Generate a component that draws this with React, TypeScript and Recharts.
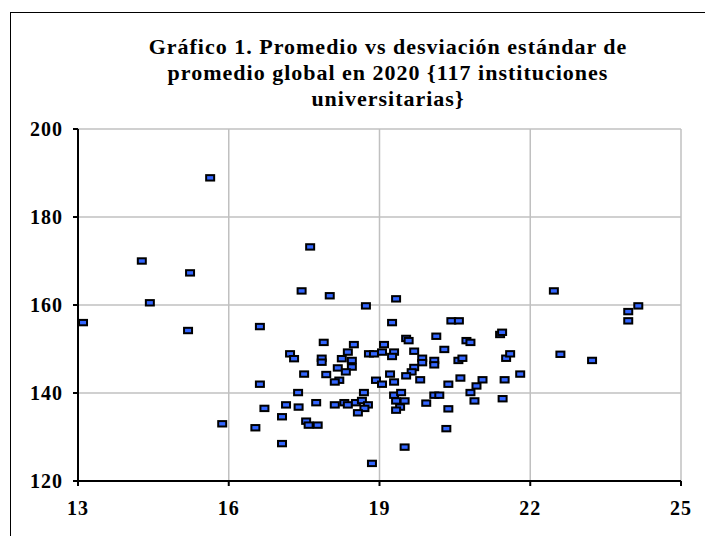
import React from "react";
import { ScatterChart, Scatter, XAxis, YAxis, CartesianGrid } from "recharts";

const titleLines = [
  "Gráfico 1. Promedio vs desviación estándar de",
  "promedio global en 2020 {117 instituciones",
  "universitarias}",
];

const xTicks = [13, 16, 19, 22, 25];
const yTicks = [120, 140, 160, 180, 200];

// desviación estándar (x)
const desviacion = [
  15.63, 14.27, 15.23, 14.43, 13.1, 15.19, 15.87, 16.53, 17.62, 17.45, 18.01, 18.73, 19.33, 22.47, 24.15, 23.95, 23.95, 22.6, 23.23,
  16.62, 19.25, 17.89, 18.49, 19.09, 17.22, 17.3, 18.37, 18.79, 18.89, 19.05, 19.29, 19.25, 17.85, 17.85, 18.25, 18.45, 18.45, 18.17, 18.33,
  17.5, 17.94, 18.2, 18.11, 16.62, 18.93, 19.05, 19.21, 19.29, 17.38, 18.69, 19.29, 19.43, 19.33, 19.5, 19.41, 19.33, 16.71, 17.14, 17.39,
  17.74, 18.11, 18.3, 18.37, 18.53, 18.65, 18.77, 18.7, 18.57, 17.06, 17.54, 17.59, 17.77, 17.06, 18.85, 19.5,
  20.43, 20.58, 19.53, 19.58, 20.13, 20.73, 20.81, 21.4, 21.44, 19.69, 20.29, 19.85, 19.85, 20.09, 20.09, 20.57, 20.65, 21.52, 21.6,
  19.69, 19.64, 19.53, 19.81, 20.37, 20.61, 21.05, 20.93, 20.81, 21.49, 21.8, 20.09, 20.19, 19.93, 20.37, 20.89, 21.45, 20.33,
];

// promedio (y)
const promedio = [
  188.9, 170.0, 167.3, 160.5, 156.0, 154.2, 133.0, 132.1, 173.2, 163.2, 162.1, 159.8, 161.4, 163.2, 159.8, 158.5, 156.4, 148.8, 147.4,
  155.1, 156.0, 151.5, 151.0, 151.0, 148.9, 147.8, 149.3, 148.9, 148.9, 149.3, 149.3, 148.3, 147.9, 147.0, 147.8, 147.4, 145.9, 145.7, 144.8,
  144.3, 144.2, 142.9, 142.5, 142.0, 142.9, 142.0, 144.3, 142.5, 140.1, 140.1, 139.5, 140.1, 138.2, 138.2, 136.8, 136.1, 136.5, 137.3, 136.8,
  137.8, 137.3, 137.8, 137.3, 137.8, 138.3, 137.3, 136.5, 135.5, 134.6, 133.6, 132.7, 132.7, 128.5, 124.0, 127.7,
  156.4, 156.4, 152.4, 151.9, 152.9, 151.9, 151.5, 153.3, 153.8, 149.5, 149.9, 147.9, 146.9, 147.4, 146.4, 147.4, 147.9, 147.9, 148.9,
  145.8, 144.8, 143.9, 143.0, 142.0, 143.4, 143.0, 141.6, 140.1, 143.0, 144.3, 139.5, 139.5, 137.7, 136.4, 138.2, 138.7, 131.9,
];

const points = desviacion.map((x, i) => ({ x, y: promedio[i] }));

const Marker = (props: any) => {
  const { cx, cy } = props;
  if (cx == null || cy == null) return null;
  return (
    <rect x={cx - 4} y={cy - 2.7} width={8} height={5.4} fill="#3366FF" stroke="#000" strokeWidth={2} />
  );
};

const tickStyle = {
  fontFamily: "'Liberation Serif', 'Times New Roman', serif",
  fontWeight: 700,
  fontSize: 20,
  fill: "#000",
  letterSpacing: 1,
};

export default function App() {
  return (
    <div style={{ position: "fixed", left: 0, top: 0, width: 705, height: 536, overflow: "hidden", background: "#fff" }}>
      <div
        style={{
          position: "absolute",
          left: 10,
          top: 12,
          width: 800,
          height: 800,
          border: "1px solid #000",
          boxSizing: "border-box",
        }}
      />
      <div
        style={{
          position: "absolute",
          left: 88,
          top: 34,
          width: 600,
          textAlign: "center",
          fontFamily: "'Liberation Serif', 'Times New Roman', serif",
          fontWeight: 700,
          fontSize: 22,
          lineHeight: "26px",
          letterSpacing: 1,
          color: "#000",
        }}
      >
        {titleLines.map((l, i) => (
          <div key={i}>{l}</div>
        ))}
      </div>
      <div style={{ position: "absolute", left: 0, top: 0 }}>
        <ScatterChart width={705} height={536} margin={{ top: 129, right: 24, bottom: 25, left: 18 }}>
          <CartesianGrid stroke="#c0c0c0" strokeWidth={1.5} horizontalValues={yTicks} verticalValues={xTicks} />
          <XAxis
            type="number"
            dataKey="x"
            domain={[13, 25]}
            ticks={xTicks}
            allowDataOverflow
            height={30}
            tickSize={5}
            tickMargin={15}
            axisLine={{ stroke: "#000", strokeWidth: 2 }}
            tickLine={{ stroke: "#000", strokeWidth: 2 }}
            tick={tickStyle}
          />
          <YAxis
            type="number"
            dataKey="y"
            domain={[120, 200]}
            ticks={yTicks}
            allowDataOverflow
            width={60}
            tickSize={5}
            tickMargin={10}
            axisLine={{ stroke: "#000", strokeWidth: 2 }}
            tickLine={{ stroke: "#000", strokeWidth: 2 }}
            tick={tickStyle}
          />
          <Scatter data={points} shape={Marker} isAnimationActive={false} />
        </ScatterChart>
      </div>
    </div>
  );
}
